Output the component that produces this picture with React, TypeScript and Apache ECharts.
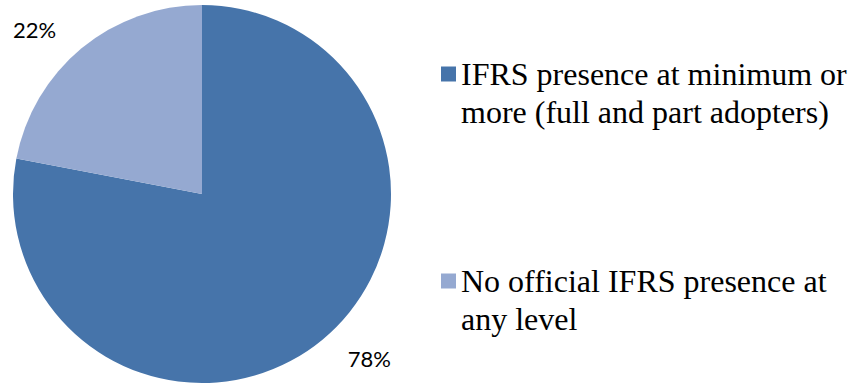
import React, { useEffect, useRef } from "react";
import * as echarts from "echarts";

const categories = [
  "IFRS presence at minimum or more (full and part adopters)",
  "No official IFRS presence at any level",
];
const legendLines = [
  ["IFRS presence at minimum or", "more (full and part adopters)"],
  ["No official IFRS presence at", "any level"],
];
const values = [78, 22];
const colors = ["#4674AA", "#95A9D1"];

export default function App() {
  const ref = useRef<HTMLDivElement>(null);
  useEffect(() => {
    if (!ref.current) return;
    const chart = echarts.init(ref.current, undefined, { renderer: "svg" });
    chart.setOption({
      animation: false,
      backgroundColor: "#ffffff",
      legend: {
        orient: "vertical",
        left: 436,
        top: 12,
        itemGap: 93,
        itemWidth: 15,
        itemHeight: 15,
        icon: "rect",
        selectedMode: false,
        data: categories,
        formatter: (name: string) => {
          const i = categories.indexOf(name);
          // leading blank line keeps the marker level with the first text line
          return "\n" + legendLines[i].join("\n");
        },
        textStyle: {
          fontFamily: "Liberation Serif",
          fontSize: 32,
          lineHeight: 38,
          color: "#000000",
        },
      },
      series: [
        {
          type: "pie",
          center: [202, 194],
          radius: 189,
          startAngle: 90,
          clockwise: true,
          silent: true,
          emphasis: { disabled: true },
          itemStyle: { borderWidth: 0 },
          label: {
            show: true,
            position: "outside",
            formatter: "{c}%",
            fontFamily: "Lato",
            fontSize: 22,
            color: "#000000",
          },
          labelLine: { show: false, length: 24, length2: 5 },
          data: categories.map((name, i) => ({
            name,
            value: values[i],
            itemStyle: { color: colors[i] },
          })),
        },
      ],
    });
    return () => chart.dispose();
  }, []);
  return (
    <div
      ref={ref}
      style={{ position: "fixed", left: 0, top: 0, width: 851, height: 385 }}
    />
  );
}
